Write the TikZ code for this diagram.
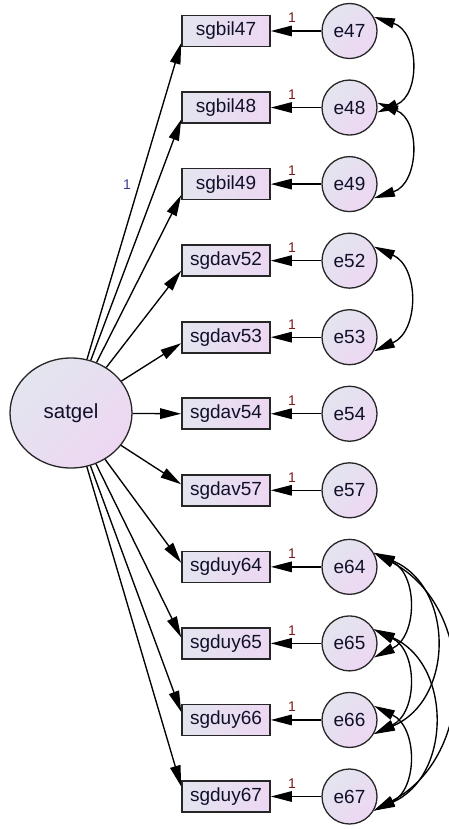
\documentclass[tikz,border=0pt]{standalone}
\usepackage{fontspec}
\setmainfont{Liberation Sans}
\usetikzlibrary{arrows.meta,shapes.geometric}
\definecolor{fillA}{HTML}{E3E5EF}
\definecolor{fillB}{HTML}{EDD7F2}
\definecolor{txt}{HTML}{10102A}
\definecolor{onered}{HTML}{7A1A1A}
\definecolor{oneblue}{HTML}{3A3A90}
\begin{document}
\begin{tikzpicture}[x=1pt,y=1pt,
  obs/.style={rectangle, draw=black!85, line width=1.6pt, minimum width=88pt, minimum height=31pt, inner sep=0pt,
    top color=fillA, bottom color=fillB, shading angle=90, font=\fontsize{19}{19}\selectfont, text=txt},
  err/.style={circle, draw=black!85, line width=1.3pt, minimum size=55pt, inner sep=0pt,
    top color=fillA, bottom color=fillB, shading angle=45, font=\fontsize{19}{19}\selectfont, text=txt},
  lat/.style={ellipse, draw=black!85, line width=1.3pt, minimum width=122pt, minimum height=110pt, inner sep=0pt,
    top color=fillA, bottom color=fillB, shading angle=45, font=\fontsize{20.5}{20.5}\selectfont, text=txt},
  reg/.style={line width=1.35pt, -{Triangle[length=21pt,width=10.5pt]}},
  cov/.style={line width=1.35pt, {Triangle[length=21pt,width=10pt]}-{Triangle[length=21pt,width=10pt]}},
  onelab/.style={font=\fontsize{14}{14}\selectfont, inner sep=0pt}
]
\useasboundingbox (0,0) rectangle (449,-829);
\fill[white] (0,0) rectangle (449,-829);

\node[lat] (lat) at (71,-413) {satgel};

\foreach \k/\lab/\v/\off in {0/sgbil47/47/12, 1/sgbil48/48/12, 2/sgbil49/49/11, 3/sgdav52/52/10,
    4/sgdav53/53/6, 5/sgdav54/54/0, 6/sgdav57/57/-6, 7/sgduy64/64/-4, 8/sgduy65/65/-6,
    9/sgduy66/66/-8, 10/sgduy67/67/-10}{
  \pgfmathsetmacro{\yy}{-31-76.55*\k}
  \node[obs] (o\v) at (226,\yy) {\lab};
  \node[err] (e\v) at (349.5,\yy) {e\v};
  \draw[reg] (e\v) -- (o\v);
  \node[onelab, text=onered] (l\v) at (292,\yy+13) {1};
  \draw[reg] (lat) -- ([yshift=-\off pt]o\v.west);
}

\node[onelab, text=oneblue] (lload) at (127,-185) {1};

% covariances
\draw[cov] (e47.30) to[bend left=70, looseness=1.27] (e48.-10);
\draw[cov] (e48.10) to[bend left=70, looseness=1.27] (e49.-30);
\draw[cov] (e52.30) to[bend left=66, looseness=1.22] (e53.-30);
\draw[cov] (e64.30) to[bend left=64, looseness=1.2] (e65.-30);
\draw[cov] (e65.30) to[bend left=64, looseness=1.2] (e66.-30);
\draw[cov] (e66.30) to[bend left=64, looseness=1.2] (e67.-30);
\draw[cov] (e64.30) to[bend left=67, looseness=1.24] (e66.-30);
\draw[cov] (e65.30) to[bend left=66, looseness=1.21] (e67.-30);
\draw[cov] (e64.30) to[bend left=62, looseness=1.16] (e67.-30);
\end{tikzpicture}
\end{document}
